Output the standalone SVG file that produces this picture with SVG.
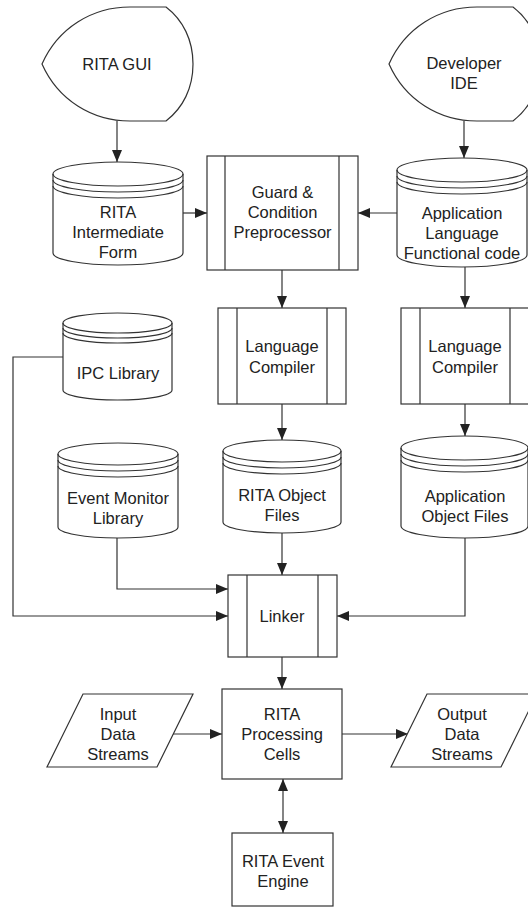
<svg xmlns="http://www.w3.org/2000/svg" width="528" height="908" viewBox="0 0 528 908">
<defs>
<marker id="ah" viewBox="0 0 12 10" refX="12" refY="5" markerWidth="12" markerHeight="10" markerUnits="userSpaceOnUse" orient="auto-start-reverse">
<path d="M0,0 L12,5 L0,10 Z" fill="#222"/>
</marker>
<style>
.s{fill:#fff;stroke:#333;stroke-width:1.2}
.l{fill:none;stroke:#333;stroke-width:1.2}
.c{fill:none;stroke:#333;stroke-width:1.2;marker-end:url(#ah)}
text{font-family:"Liberation Sans",Arial,sans-serif;font-size:16.5px;fill:#222;text-anchor:middle}
</style>
</defs>
<rect width="528" height="908" fill="#fff"/>

<g id="connectors">
<path class="c" d="M117,121 L117,162"/>
<path class="c" d="M464,121 L464,158"/>
<path class="c" d="M183,213 L207,213"/>
<path class="c" d="M397,213 L358,213"/>
<path class="c" d="M282,270 L282,308"/>
<path class="c" d="M465,267 L465,308"/>
<path class="c" d="M282,404 L282,440"/>
<path class="c" d="M465,404 L465,436"/>
<path class="c" d="M63,357 L13,357 L13,616 L228,616"/>
<path class="c" d="M117,538 L117,589 L228,589"/>
<path class="c" d="M282,533 L282,575"/>
<path class="c" d="M465,538 L465,616 L337,616"/>
<path class="c" d="M282,657 L282,689"/>
<path class="c" d="M173,734 L222,734"/>
<path class="c" d="M342,734 L408,734"/>
<path class="c" d="M283,779 L283,833" style="marker-start:url(#ah)"/>
</g>

<g id="rita-gui">
<path class="s" d="M42,64 C58,28 92,7 130,7 L166,7 C183,20 193,40 193,64 C193,88 183,108 166,121 L130,121 C92,121 58,100 42,64 Z"/>
<text x="117" y="70">RITA GUI</text>
</g>

<g id="developer-ide">
<path class="s" d="M389,64 C405,28 439,7 477,7 L513,7 C530,20 540,40 540,64 C540,88 530,108 513,121 L477,121 C439,121 405,100 389,64 Z"/>
<text x="464" y="69">Developer</text>
<text x="464" y="89">IDE</text>
</g>

<g id="rita-intermediate-form">
<path class="s" d="M53,174 A65,12 0 0 1 183,174 L183,253 A65,12 0 0 1 53,253 Z"/>
<path class="l" d="M53,174 A65,12 0 0 0 183,174 M53,180 A65,12 0 0 0 183,180 M53,186 A65,12 0 0 0 183,186"/>
<text x="118" y="218">RITA</text>
<text x="118" y="238">Intermediate</text>
<text x="118" y="258">Form</text>
</g>

<g id="guard-preprocessor">
<rect class="s" x="207" y="156" width="151" height="114"/>
<path class="l" d="M225,156 L225,270 M339,156 L339,270"/>
<text x="282.5" y="198">Guard &amp;</text>
<text x="282.5" y="218">Condition</text>
<text x="282.5" y="238">Preprocessor</text>
</g>

<g id="application-language">
<path class="s" d="M397,170 A65,12 0 0 1 527,170 L527,255 A65,12 0 0 1 397,255 Z"/>
<path class="l" d="M397,170 A65,12 0 0 0 527,170 M397,176 A65,12 0 0 0 527,176 M397,182 A65,12 0 0 0 527,182"/>
<text x="462" y="219">Application</text>
<text x="462" y="239">Language</text>
<text x="462" y="259">Functional code</text>
</g>

<g id="ipc-library">
<path class="s" d="M63,323 A54.5,10 0 0 1 172,323 L172,390 A54.5,10 0 0 1 63,390 Z"/>
<path class="l" d="M63,323 A54.5,10 0 0 0 172,323 M63,328 A54.5,10 0 0 0 172,328 M63,333 A54.5,10 0 0 0 172,333"/>
<text x="118" y="379">IPC Library</text>
</g>

<g id="language-compiler-left">
<rect class="s" x="218" y="308" width="128" height="96"/>
<path class="l" d="M237,308 L237,404 M327,308 L327,404"/>
<text x="282" y="352">Language</text>
<text x="282" y="373">Compiler</text>
</g>

<g id="language-compiler-right">
<rect class="s" x="401" y="308" width="128" height="96"/>
<path class="l" d="M420,308 L420,404 M510,308 L510,404"/>
<text x="465" y="352">Language</text>
<text x="465" y="373">Compiler</text>
</g>

<g id="event-monitor-library">
<path class="s" d="M58,454 A60,11 0 0 1 178,454 L178,527 A60,11 0 0 1 58,527 Z"/>
<path class="l" d="M58,454 A60,11 0 0 0 178,454 M58,460 A60,11 0 0 0 178,460 M58,466 A60,11 0 0 0 178,466"/>
<text x="118" y="504">Event Monitor</text>
<text x="118" y="524">Library</text>
</g>

<g id="rita-object-files">
<path class="s" d="M223,451 A59,11 0 0 1 341,451 L341,522 A59,11 0 0 1 223,522 Z"/>
<path class="l" d="M223,451 A59,11 0 0 0 341,451 M223,457 A59,11 0 0 0 341,457 M223,463 A59,11 0 0 0 341,463"/>
<text x="282" y="501">RITA Object</text>
<text x="282" y="521">Files</text>
</g>

<g id="application-object-files">
<path class="s" d="M401,448 A63.5,12 0 0 1 528,448 L528,526 A63.5,12 0 0 1 401,526 Z"/>
<path class="l" d="M401,448 A63.5,12 0 0 0 528,448 M401,454 A63.5,12 0 0 0 528,454 M401,460 A63.5,12 0 0 0 528,460"/>
<text x="465" y="502">Application</text>
<text x="465" y="522">Object Files</text>
</g>

<g id="linker">
<rect class="s" x="228" y="575" width="109" height="82"/>
<path class="l" d="M247,575 L247,657 M318,575 L318,657"/>
<text x="282" y="622">Linker</text>
</g>

<g id="rita-processing-cells">
<rect class="s" x="222" y="689" width="120" height="90"/>
<text x="282" y="720">RITA</text>
<text x="282" y="740">Processing</text>
<text x="282" y="760">Cells</text>
</g>

<g id="input-data-streams">
<path class="s" d="M83,694 L193,694 L157,767 L47,767 Z"/>
<text x="118" y="720">Input</text>
<text x="118" y="740">Data</text>
<text x="118" y="760">Streams</text>
</g>

<g id="output-data-streams">
<path class="s" d="M427,694 L537,694 L501,767 L391,767 Z"/>
<text x="462" y="720">Output</text>
<text x="462" y="740">Data</text>
<text x="462" y="760">Streams</text>
</g>

<g id="rita-event-engine">
<rect class="s" x="232" y="833" width="101" height="73"/>
<text x="283" y="867">RITA Event</text>
<text x="283" y="887">Engine</text>
</g>
</svg>
